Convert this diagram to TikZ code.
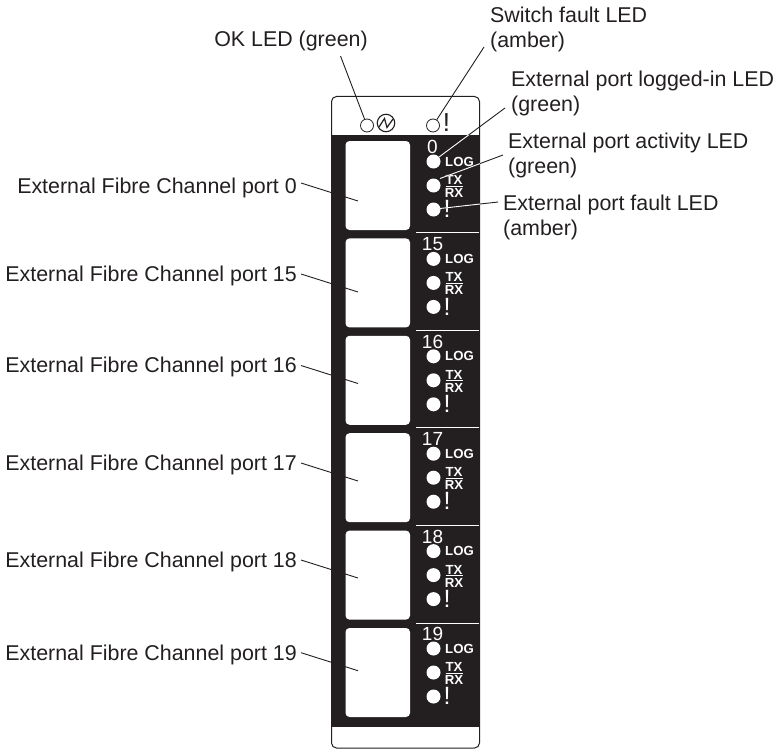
\documentclass[tikz,border=0pt]{standalone}
\usepackage{fontspec}
\setmainfont{Liberation Sans}
\definecolor{ink}{HTML}{231F20}
\tikzset{
  x=1pt,y=-1pt,
  lbl/.style={inner sep=0pt,anchor=west,align=left,text=ink,font=\fontsize{21.4}{25}\selectfont},
  portlbl/.style={inner sep=0pt,anchor=base east,text=ink,font=\fontsize{21.4}{25}\selectfont},
  leader/.style={draw=ink,line width=0.9pt},
  whiteleader/.style={draw=white,line width=0.9pt},
  portbox/.style={draw=none,fill=white,rounded corners=4pt},
  led/.style={circle,fill=white,draw=none,minimum size=14pt,inner sep=0pt},
  ringled/.style={circle,fill=white,draw=ink,line width=0.8pt,minimum size=13pt,inner sep=0pt},
  wtxt/.style={text=white,inner sep=0pt},
  tinytxt/.style={wtxt,font=\bfseries\fontsize{13.2}{13}\selectfont},
  numtxt/.style={wtxt,font=\fontsize{19}{18}\selectfont},
}
\begin{document}
\begin{tikzpicture}
\useasboundingbox (0,0) rectangle (775,749);
% panel
\draw[ink,line width=1pt,fill=white,rounded corners=5pt] (331.5,96.5) rectangle (479.5,748);
\fill[ink] (332,135) rectangle (480,727);
% top row
\node[ringled] (okled) at (367,125.5) {};
\node[circle,draw=ink,line width=1.1pt,minimum size=17.5pt,inner sep=0pt] (oksym) at (386,123) {};
\draw[ink,line width=1.2pt] (379,127) -- (384.5,118.5) -- (387,127.5) -- (393,119);
\node[ringled] (swled) at (433,125.5) {};
\node[inner sep=0pt,text=ink,font=\fontsize{26}{26}\selectfont] (swmark) at (446.5,123) {!};
% ports
\foreach \n/\y in {0/141,15/238.4,16/335.8,17/433.2,18/530.6,19/628}{
  \node[portbox,minimum width=64.5pt,minimum height=89pt,inner sep=0pt] (box\n) at (377.75,\y+44.5) {};
  \node[numtxt] (num\n) at (432.5,\y+6) {\n};
  \node[led] (log\n) at (433.5,\y+20.5) {};
  \node[led] (tx\n) at (433.5,\y+44.5) {};
  \node[led] (flt\n) at (433.5,\y+68.5) {};
  \node[tinytxt,anchor=west] (logt\n) at (445,\y+20.5) {LOG};
  \node[tinytxt] (txt\n) at (454,\y+39) {TX};
  \node[tinytxt] (rxt\n) at (454,\y+52) {RX};
  \draw[white,line width=0.8pt] (445.5,\y+45) -- (463,\y+45);
  \node[wtxt,font=\fontsize{25}{25}\selectfont] (excl\n) at (447,\y+68) {!};
}
\foreach \y in {232,330,427.5,525,623}{
  \draw[white,line width=0.8pt] (416,\y) -- (479,\y);
}
% port labels and leaders
\foreach \n/\b/\s in {0/193.5/183,15/281.7/274,16/372.5/365.5,17/470.5/463,18/567.5/560,19/660.5/652.7}{
  \node[portlbl] (pl\n) at (297,\b) {External Fibre Channel port \n};
  \coordinate (st\n) at (301,\s);
  \coordinate (boxend\n) at (358,\s+18);
  \draw[leader] (st\n) -- (boxend\n);
}
% top labels
\node[lbl,anchor=center] (oklbl) at (291,41) {OK LED (green)};
\node[lbl] (swlbl) at (490,29.5) {Switch fault LED\\(amber)};
\node[lbl] (inlbl) at (511,93) {External port logged-in LED\\(green)};
\node[lbl] (aclbl) at (508,155.5) {External port activity LED\\(green)};
\node[lbl] (ftlbl) at (503,217.5) {External port fault LED\\(amber)};
\coordinate (okend) at (340.5,56);
\coordinate (swend) at (484,47);
\coordinate (inend) at (505,108);
\coordinate (acend) at (503,155);
\coordinate (ftend) at (498,202);
\draw[leader] (okend) -- (okled);
\draw[leader] (swend) -- (swled);
\coordinate (inled) at (439,157);
\coordinate (acled) at (440,178.5);
\coordinate (ftled) at (440,208.5);
\draw[leader] (inend) -- (inled);
\draw[leader] (acend) -- (acled);
\draw[leader] (ftend) -- (ftled);
\begin{scope}
\clip (332,135) rectangle (480,727);
\draw[whiteleader] (inend) -- (inled);
\draw[whiteleader] (acend) -- (acled);
\draw[whiteleader] (ftend) -- (ftled);
\end{scope}
\end{tikzpicture}
\end{document}
